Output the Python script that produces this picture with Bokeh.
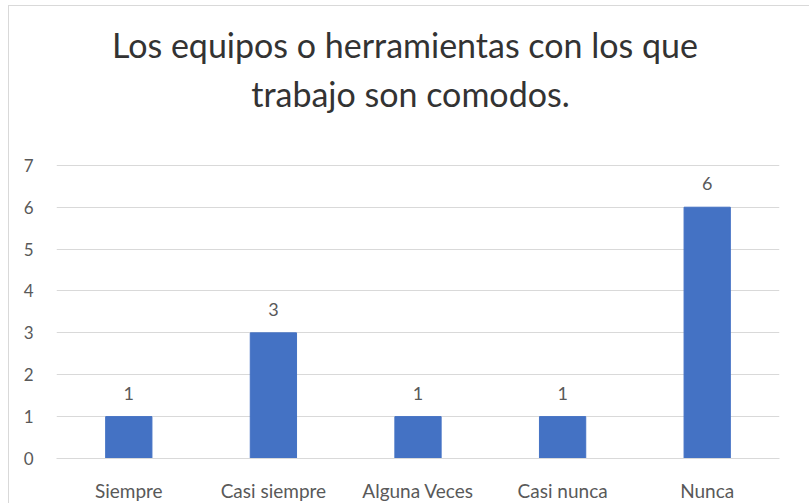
from bokeh.plotting import figure
from bokeh.models import ColumnDataSource, LabelSet, Range1d, FixedTicker, Title
from bokeh.core.properties import value
from bokeh.embed import file_html
from bokeh.resources import INLINE

title_lines = ["Los equipos o herramientas con los que", "trabajo son comodos."]
categories = ["Siempre", "Casi siempre", "Alguna Veces", "Casi nunca", "Nunca"]
values = [1, 3, 1, 1, 6]
y_ticks = [0, 1, 2, 3, 4, 5, 6, 7]

src = ColumnDataSource(dict(cat=categories, val=values, lab=[str(v) for v in values]))

p = figure(x_range=categories, y_range=Range1d(0, 7.02), width=801, height=498,
           output_backend="svg", toolbar_location=None,
           min_border_left=47, min_border_right=31, min_border_top=158, min_border_bottom=45)
p.margin = (5, 0, 0, 8)
p.styles = {"border-left": "1px solid #d9d9d9", "border-top": "1px solid #d9d9d9"}
p.title = None

NB = "\u00a0"
# spacer between the plot area and the title block
spacer = Title(text=NB, text_font_size="1px", standoff=47, text_color="white")
p.add_layout(spacer, "above")

# non-breaking spaces centre the second line under the first (lines are left-aligned in the block)
title_text = title_lines[0] + NB * 3 + "\n" + NB * 16 + title_lines[1]
title = Title(text=title_text, align="center", text_font="Lato",
              text_font_size="34px", text_font_style="normal", text_color="#333333",
              text_line_height=1.2, standoff=0)
p.add_layout(title, "above")

p.vbar(x="cat", top="val", width=0.32, source=src, color="#4472C4")

labels = LabelSet(x="cat", y="val", text="lab", source=src, text_align="center",
                  text_baseline="alphabetic", y_offset=17, text_font_size="18px",
                  text_color="#595959", text_font=value("Lato"))
p.add_layout(labels)

p.outline_line_color = None
p.background_fill_color = "white"
p.border_fill_color = "white"

p.xgrid.grid_line_color = None
p.ygrid.grid_line_color = "#d9d9d9"
p.ygrid.grid_line_width = 1
p.yaxis.ticker = FixedTicker(ticks=y_ticks)

p.yaxis.axis_line_color = None
p.yaxis.major_tick_line_color = None
p.yaxis.minor_tick_line_color = None
p.yaxis.major_label_text_color = "#595959"
p.yaxis.major_label_text_font = "Lato"
p.yaxis.major_label_text_font_size = "17px"
p.yaxis.major_label_standoff = 17

p.xaxis.axis_line_color = "#d9d9d9"
p.xaxis.major_tick_line_color = None
p.xaxis.minor_tick_line_color = None
p.xaxis.major_label_text_color = "#595959"
p.xaxis.major_label_text_font = "Lato"
p.xaxis.major_label_text_font_size = "19px"
p.xaxis.major_label_standoff = 14
p.x_range.range_padding = 0

open("out.html", "w").write(file_html(p, INLINE))
